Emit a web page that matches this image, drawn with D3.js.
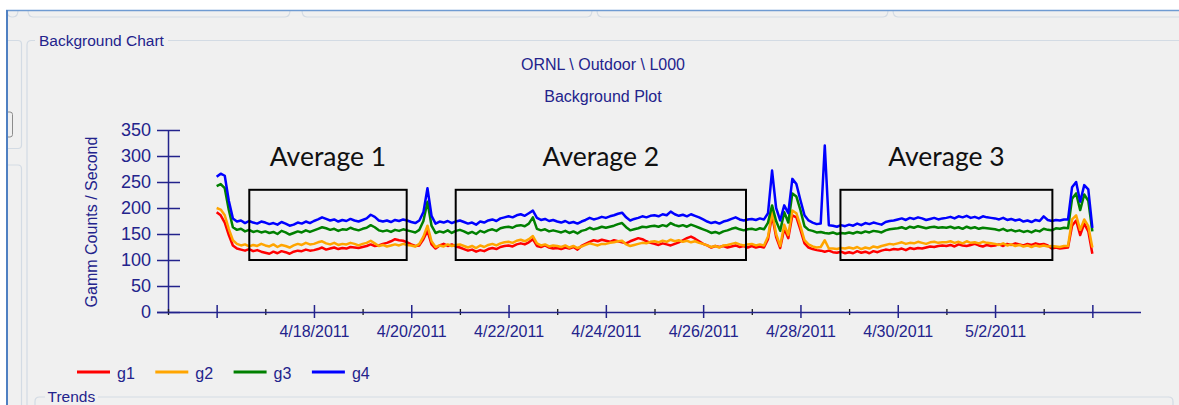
<!DOCTYPE html>
<html>
<head>
<meta charset="utf-8">
<script src="https://cdn.jsdelivr.net/npm/d3@7"></script>
<style>
  body { margin: 0; background: #fff; }
  svg text { font-family: "Liberation Sans", Arial, sans-serif; }
</style>
</head>
<body>
<svg id="chart" width="1179" height="405"></svg>
<script>
// ---- data (one value every 2 hours, 4/16 00:00 -> 5/4 00:00) ----
const seriesNames = ["g1", "g2", "g3", "g4"];
const seriesColors = ["#ff0000", "#ffa500", "#008000", "#0000ff"];

const g1 = [
  192,186,172,148,128,122,120,118,121,117,119,116,
  114,112,116,113,117,115,112,116,118,117,120,118,
  119,121,124,120,122,124,121,123,122,125,124,123,
  125,127,130,127,128,131,133,136,140,138,137,134,
  130,127,128,140,156,130,122,128,131,127,130,126,
  124,121,118,120,116,119,117,121,123,121,125,127,
  128,126,130,132,130,134,140,127,125,128,124,122,
  123,121,124,122,125,120,127,131,135,138,136,139,
  137,135,138,136,134,132,136,139,142,140,136,133,
  131,129,132,130,128,131,134,138,142,145,141,136,
  131,128,124,127,125,127,124,126,128,125,127,124,
  127,124,126,124,140,186,144,123,160,142,186,182,
  158,132,124,121,119,118,116,118,115,114,116,113,
  115,113,117,114,116,113,117,115,118,120,119,121,
  120,122,119,123,121,123,122,124,126,125,127,128,
  127,129,126,130,128,127,129,131,128,126,129,127,
  128,130,127,131,129,132,130,128,131,129,132,130,
  131,128,122,124,122,123,124,166,176,148,170,155,
  112
];
const g2 = [
  200,197,186,160,138,131,128,130,126,129,127,131,
  128,126,130,125,129,127,124,128,131,129,133,130,
  131,134,136,132,130,133,129,131,130,133,131,128,
  131,133,137,132,127,129,126,128,130,128,131,129,
  128,126,131,145,166,136,125,128,126,130,127,129,
  130,127,124,127,123,128,125,129,131,128,132,134,
  135,133,137,139,136,140,146,132,128,130,126,128,
  127,125,128,124,127,123,126,129,132,130,128,131,
  131,133,134,136,137,130,127,129,131,133,132,135,
  136,134,137,135,139,136,138,135,137,134,136,133,
  131,128,125,127,124,128,129,131,133,130,128,130,
  131,128,130,128,145,193,150,127,168,148,195,190,
  165,138,130,126,124,125,138,122,122,121,123,122,
  124,122,125,121,124,122,126,124,127,129,131,130,
  132,134,131,133,132,135,133,131,134,135,133,134,
  134,136,133,135,132,136,133,134,132,135,133,132,
  131,129,132,128,130,127,129,126,128,125,128,126,
  128,126,127,126,125,127,127,178,186,158,178,165,
  124
];
const g3 = [
  242,246,238,196,163,158,160,155,158,154,156,153,
  155,152,154,150,156,153,149,152,155,153,157,154,
  157,160,163,161,158,160,156,159,158,162,159,157,
  160,162,167,163,157,155,157,154,158,156,159,157,
  155,153,158,175,212,166,152,155,153,157,152,156,
  158,155,151,154,150,156,153,157,159,156,161,163,
  164,162,166,167,165,170,182,160,157,159,155,157,
  155,153,156,152,155,151,156,158,162,159,161,164,
  162,164,166,169,171,163,157,159,161,164,163,165,
  166,164,167,165,171,167,165,167,164,168,165,162,
  159,156,152,154,151,155,157,160,162,159,157,159,
  160,158,161,159,172,205,175,156,192,172,228,222,
  196,165,158,156,153,154,152,151,153,150,152,151,
  153,151,154,152,155,153,156,155,153,157,159,160,
  161,163,160,164,162,165,163,161,163,164,162,163,
  162,164,161,163,160,164,161,163,160,162,161,160,
  159,157,160,156,158,155,157,154,156,153,157,155,
  160,158,157,161,160,162,161,218,228,196,226,214,
  155
];
const g4 = [
  260,266,262,214,180,174,176,171,175,172,170,174,
  172,169,171,168,173,170,166,168,172,170,174,171,
  175,178,182,179,176,178,174,177,175,179,176,174,
  177,180,187,183,176,174,176,173,177,175,178,176,
  173,171,176,192,238,185,170,174,172,175,171,174,
  176,173,170,172,168,174,172,176,178,175,180,182,
  184,182,186,188,185,190,195,181,177,179,175,177,
  174,172,175,171,173,170,174,177,181,178,180,183,
  181,184,186,189,191,182,176,179,181,184,182,185,
  186,184,188,186,193,188,185,187,184,188,185,182,
  178,174,171,173,170,174,176,179,182,178,176,178,
  179,177,180,178,190,272,200,176,205,190,256,246,
  215,186,176,172,169,170,320,167,166,164,167,165,
  168,166,170,167,171,169,172,170,168,173,175,176,
  178,180,177,181,179,182,180,177,179,181,178,180,
  181,183,180,184,182,185,181,183,180,184,182,181,
  180,178,181,177,179,176,178,174,176,173,177,175,
  184,177,175,177,176,178,178,240,250,212,244,236,
  162
];

const yTicks = [0, 50, 100, 150, 200, 250, 300, 350];
const majorTickDates = ["2011-04-16","2011-04-18","2011-04-20","2011-04-22","2011-04-24",
  "2011-04-26","2011-04-28","2011-04-30","2011-05-02","2011-05-04"];
const majorTickLabels = ["","4/18/2011","4/20/2011","4/22/2011","4/24/2011",
  "4/26/2011","4/28/2011","4/30/2011","5/2/2011",""];
const minorTickDates = ["2011-04-15","2011-04-17","2011-04-19","2011-04-21","2011-04-23",
  "2011-04-25","2011-04-27","2011-04-29","2011-05-01","2011-05-03"];

// annotation boxes drawn over the plot
const avgLabels = ["Average 1", "Average 2", "Average 3"];
const avgStart = ["2011-04-16 16:06", "2011-04-20 21:56", "2011-04-28 19:44"];
const avgEnd   = ["2011-04-19 21:45", "2011-04-26 21:08", "2011-05-03 04:17"];
const avgLow = 100, avgHigh = 235, avgTextAt = 280;

const parseDay = d3.timeParse("%Y-%m-%d");
const parseTime = d3.timeParse("%Y-%m-%d %H:%M");
const start = parseDay("2011-04-16");
const times = g1.map((_, i) => d3.timeHour.offset(start, 2 * i));

const navy = "#23238c";
const svg = d3.select("#chart");

// ---- window chrome ----
svg.append("rect").attr("x", 7).attr("y", 10).attr("width", 1172).attr("height", 395).attr("fill", "#f0f0f0");

const chrome = svg.append("g").attr("fill", "none").attr("stroke", "#d3dbe4").attr("stroke-width", 1.2);
[[7, 18], [28, 290], [302, 592], [597, 888], [893, 1185]].forEach(([a, b]) => {
  chrome.append("path").attr("d", `M${a},10 Q${a},17 ${a + 5},17 H${b - 5} Q${b},17 ${b},10`);
});
// left neighbour panel
chrome.append("path").attr("d", "M7,40.5 H18 Q21.5,40.5 21.5,44 V145 Q21.5,148.5 18,148.5 H7");
chrome.append("path").attr("d", "M7,165 H18 Q21.5,165 21.5,169 V405");
// Background Chart group box
chrome.append("path").attr("d", "M27,405 V45 Q27,40.5 31.5,40.5 H35");
chrome.append("path").attr("d", "M168,40.5 H1179");
// Trends group box
chrome.append("path").attr("d", "M35,405 V401.5 Q35,397 39.5,397 H45");
chrome.append("path").attr("d", "M98,397 H1168.5 Q1173,397 1173,401.5 V405");
// little bracket at the far left
svg.append("path").attr("d", "M8,112 H10 Q12.5,112 12.5,114.5 V134.5 Q12.5,137 10,137 H8")
  .attr("fill", "none").attr("stroke", "#8c8c8c").attr("stroke-width", 1);
// blue window border
svg.append("line").attr("x1", 6).attr("x2", 1179).attr("y1", 10.5).attr("y2", 10.5)
  .attr("stroke", "#6f9bd2").attr("stroke-width", 1.5);
svg.append("line").attr("x1", 7).attr("x2", 7).attr("y1", 10).attr("y2", 405)
  .attr("stroke", "#4f80c2").attr("stroke-width", 2);

svg.append("text").attr("x", 39).attr("y", 46).attr("fill", navy)
  .style("font-size", "15.5px").text("Background Chart");
svg.append("text").attr("x", 47.5).attr("y", 402).attr("fill", navy)
  .style("font-size", "15.5px").text("Trends");

// ---- titles ----
svg.append("text").attr("x", 603).attr("y", 70).attr("text-anchor", "middle").attr("fill", navy)
  .style("font-size", "16px").text("ORNL \\ Outdoor \\ L000");
svg.append("text").attr("x", 603).attr("y", 101.5).attr("text-anchor", "middle").attr("fill", navy)
  .style("font-size", "16px").text("Background Plot");

// ---- scales ----
const x = d3.scaleTime().domain([parseDay("2011-04-15"), parseDay("2011-05-05")]).range([168, 1141]);
const y = d3.scaleLinear().domain([0, 350]).range([312, 130]);

// ---- axes ----
const yAxis = svg.append("g").attr("transform", "translate(168,0)")
  .call(d3.axisLeft(y).tickValues(yTicks).tickSize(11).tickSizeOuter(0).tickPadding(6));
yAxis.selectAll(".tick line").attr("x1", 12);
yAxis.selectAll("path, line").attr("stroke", navy).attr("stroke-width", 1.5);
yAxis.selectAll("text").attr("fill", navy).style("font-size", "18px")
  .style("font-family", "'Liberation Sans', Arial, sans-serif");

const xMinor = svg.append("g").attr("transform", "translate(0,312)")
  .call(d3.axisBottom(x).tickValues(minorTickDates.map(parseDay)).tickSize(3).tickSizeOuter(0).tickFormat(""));
xMinor.select(".domain").remove();
xMinor.selectAll(".tick line").attr("y1", -3).attr("stroke", "#1a1a1a").attr("stroke-width", 1.3);

const xAxis = svg.append("g").attr("transform", "translate(0,312)")
  .call(d3.axisBottom(x).tickValues(majorTickDates.map(parseDay)).tickSize(6).tickSizeOuter(0)
    .tickPadding(8).tickFormat((d, i) => majorTickLabels[i]));
xAxis.select(".domain").attr("d", "M157,0.5 H1141");
xAxis.selectAll(".tick line").attr("y1", -7);
xAxis.selectAll("path, line").attr("stroke", navy).attr("stroke-width", 1.5);
xAxis.selectAll("text").attr("fill", navy).style("font-size", "16px")
  .style("font-family", "'Liberation Sans', Arial, sans-serif");

svg.append("text")
  .attr("transform", `translate(97,${(y(0) + y(350)) / 2 + 1}) rotate(-90)`)
  .attr("text-anchor", "middle").attr("fill", navy).style("font-size", "16px")
  .text("Gamm Counts / Second");

// ---- series ----
const line = d3.line().x((d, i) => x(times[i])).y(d => y(d));
[g1, g2, g3, g4].forEach((s, k) => {
  svg.append("path").datum(s).attr("d", line)
    .attr("fill", "none").attr("stroke", seriesColors[k])
    .attr("stroke-width", 2.5).attr("stroke-linejoin", "round");
});

// ---- annotation boxes ----
avgLabels.forEach((lab, i) => {
  const x0 = x(parseTime(avgStart[i])), x1 = x(parseTime(avgEnd[i]));
  svg.append("rect").attr("x", x0).attr("y", y(avgHigh))
    .attr("width", x1 - x0).attr("height", y(avgLow) - y(avgHigh))
    .attr("fill", "none").attr("stroke", "#000").attr("stroke-width", 2);
  svg.append("text").attr("x", (x0 + x1) / 2).attr("y", y(avgTextAt))
    .attr("text-anchor", "middle").attr("fill", "#111")
    .style("font-family", "Lato, 'Open Sans', sans-serif").style("font-size", "26.5px")
    .text(lab);
});

// ---- legend ----
const legend = svg.append("g");
seriesNames.forEach((n, i) => {
  const lx = 77 + i * 78.3;
  legend.append("line").attr("x1", lx).attr("x2", lx + 33).attr("y1", 372).attr("y2", 372)
    .attr("stroke", seriesColors[i]).attr("stroke-width", 3);
  legend.append("text").attr("x", lx + 40).attr("y", 379).attr("fill", navy)
    .style("font-size", "16px").text(n);
});
</script>
</body>
</html>
